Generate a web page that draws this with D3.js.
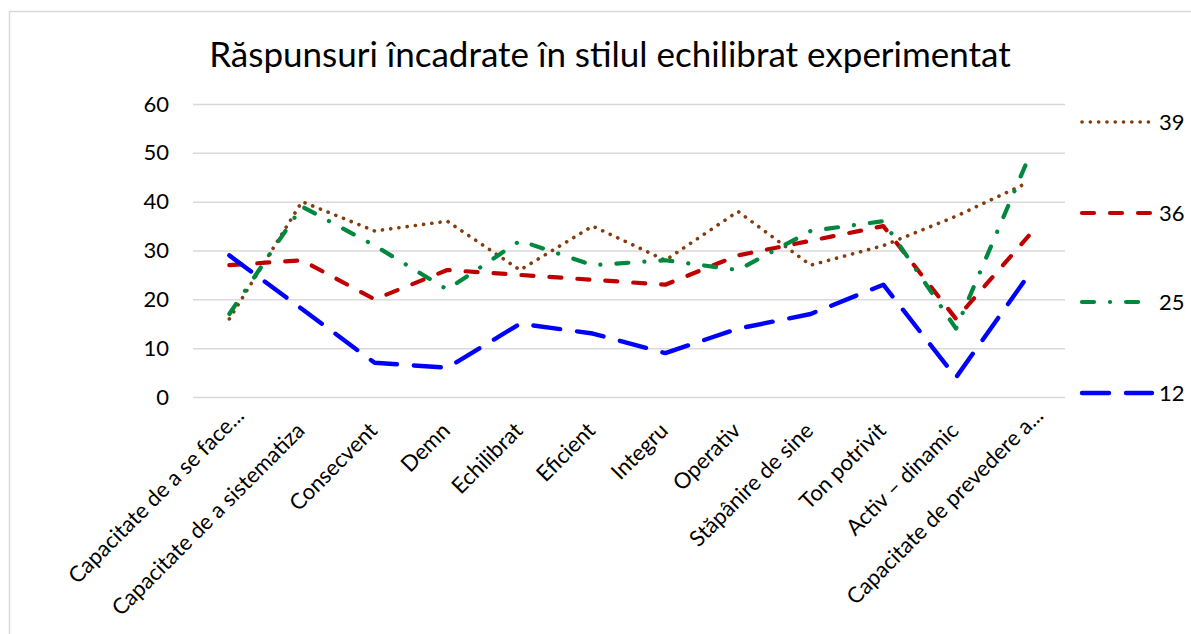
<html>
<head>
<meta charset="utf-8">
<title>Raspunsuri stil echilibrat</title>
<style>
  body { margin: 0; background: #fff; }
  text { font-family: Lato, "Open Sans", sans-serif; fill: #000; }
</style>
</head>
<body>
<svg id="chart" width="1191" height="634"></svg>
<script src="https://d3js.org/d3.v7.min.js"></script>
<script>
// categories on the x axis
let categories = [
    "Capacitate de a se face...",
    "Capacitate de a sistematiza",
    "Consecvent",
    "Demn",
    "Echilibrat",
    "Eficient",
    "Integru",
    "Operativ",
    "Stăpânire de sine",
    "Ton potrivit",
    "Activ – dinamic",
    "Capacitate de prevedere a..."
]

// one array per series (series name = legend label)
let seriesNames = ["39", "36", "25", "12"]
let values39 = [16, 40, 34, 36, 26, 35, 28, 38, 27, 31, 37, 44]
let values36 = [27, 28, 20, 26, 25, 24, 23, 29, 32, 35, 16, 33]
let values25 = [17, 39, 31, 22, 32, 27, 28, 26, 34, 36, 14, 49]
let values12 = [29, 18, 7, 6, 15, 13, 9, 14, 17, 23, 4, 25]

let yTicks = [0, 10, 20, 30, 40, 50, 60]

let series = [
    { name: seriesNames[0], values: values39, color: "#843c0c", dash: "0.1 8.2", width: 3.6 },
    { name: seriesNames[1], values: values36, color: "#c00000", dash: "12 16", width: 4.2 },
    { name: seriesNames[2], values: values25, color: "#00883e", dash: "12 16 0.1 16", width: 4.2 },
    { name: seriesNames[3], values: values12, color: "#0000ff", dash: "27 17", width: 4.4 }
]

let svg = d3.select("#chart")

// outer chart border
svg.append("rect")
    .attr("x", 9.5).attr("y", 11.5)
    .attr("width", 1200).attr("height", 640)
    .attr("fill", "none")
    .attr("stroke", "#d9d9d9")
    .attr("stroke-width", 1.5)

let plotLeft = 193, plotRight = 1065, plotTop = 104, plotBottom = 397

let x = d3.scalePoint()
    .domain(categories)
    .range([plotLeft, plotRight])
    .padding(0.5)

let y = d3.scaleLinear()
    .domain([0, 60])
    .range([plotBottom, plotTop])

// gridlines + y labels
let yAxis = svg.append("g")
    .attr("transform", `translate(${plotLeft},0)`)
    .call(d3.axisLeft(y).tickValues(yTicks).tickSize(-(plotRight - plotLeft)).tickPadding(24))
yAxis.select(".domain").remove()
yAxis.selectAll(".tick line")
    .attr("stroke", "#d9d9d9")
    .attr("stroke-width", 1.5)
yAxis.selectAll(".tick text")
    .attr("font-family", "Lato, sans-serif")
    .attr("font-size", 22)
    .attr("fill", "#000")

// category labels, rotated (truncated ones sit a bit further up)
svg.append("g")
    .selectAll("text")
    .data(categories)
    .enter()
    .append("text")
    .attr("transform", d => {
        let cut = d.endsWith("...")
        let dx = cut ? 16 : 4
        let dy = cut ? 20 : 35
        return `translate(${x(d) + dx},${plotBottom + dy}) rotate(-45)`
    })
    .attr("text-anchor", "end")
    .attr("font-size", 22)
    .text(d => d)

// lines
let line = d3.line()
    .x((d, i) => x(categories[i]))
    .y(d => y(d))

svg.append("g")
    .selectAll("path")
    .data(series)
    .enter()
    .append("path")
    .attr("d", d => line(d.values))
    .attr("fill", "none")
    .attr("stroke", d => d.color)
    .attr("stroke-width", d => d.width)
    .attr("stroke-dasharray", d => d.dash)
    .attr("stroke-linecap", "round")
    .attr("stroke-linejoin", "round")

// legend
let legendY = [122, 213, 302, 393]
let legend = svg.append("g")
    .selectAll("g")
    .data(series)
    .enter()
    .append("g")
    .attr("transform", (d, i) => `translate(1082,${legendY[i]})`)
legend.append("line")
    .attr("x1", 0).attr("x2", 70)
    .attr("stroke", d => d.color)
    .attr("stroke-width", d => d.width)
    .attr("stroke-dasharray", d => d.dash)
    .attr("stroke-linecap", "round")
legend.append("text")
    .attr("x", 77)
    .attr("dy", "0.35em")
    .attr("font-size", 22)
    .text(d => d.name)

// title
svg.append("text")
    .attr("x", 610)
    .attr("y", 67)
    .attr("text-anchor", "middle")
    .attr("font-size", 35)
    .text("Răspunsuri încadrate în stilul echilibrat experimentat")
</script>
</body>
</html>
